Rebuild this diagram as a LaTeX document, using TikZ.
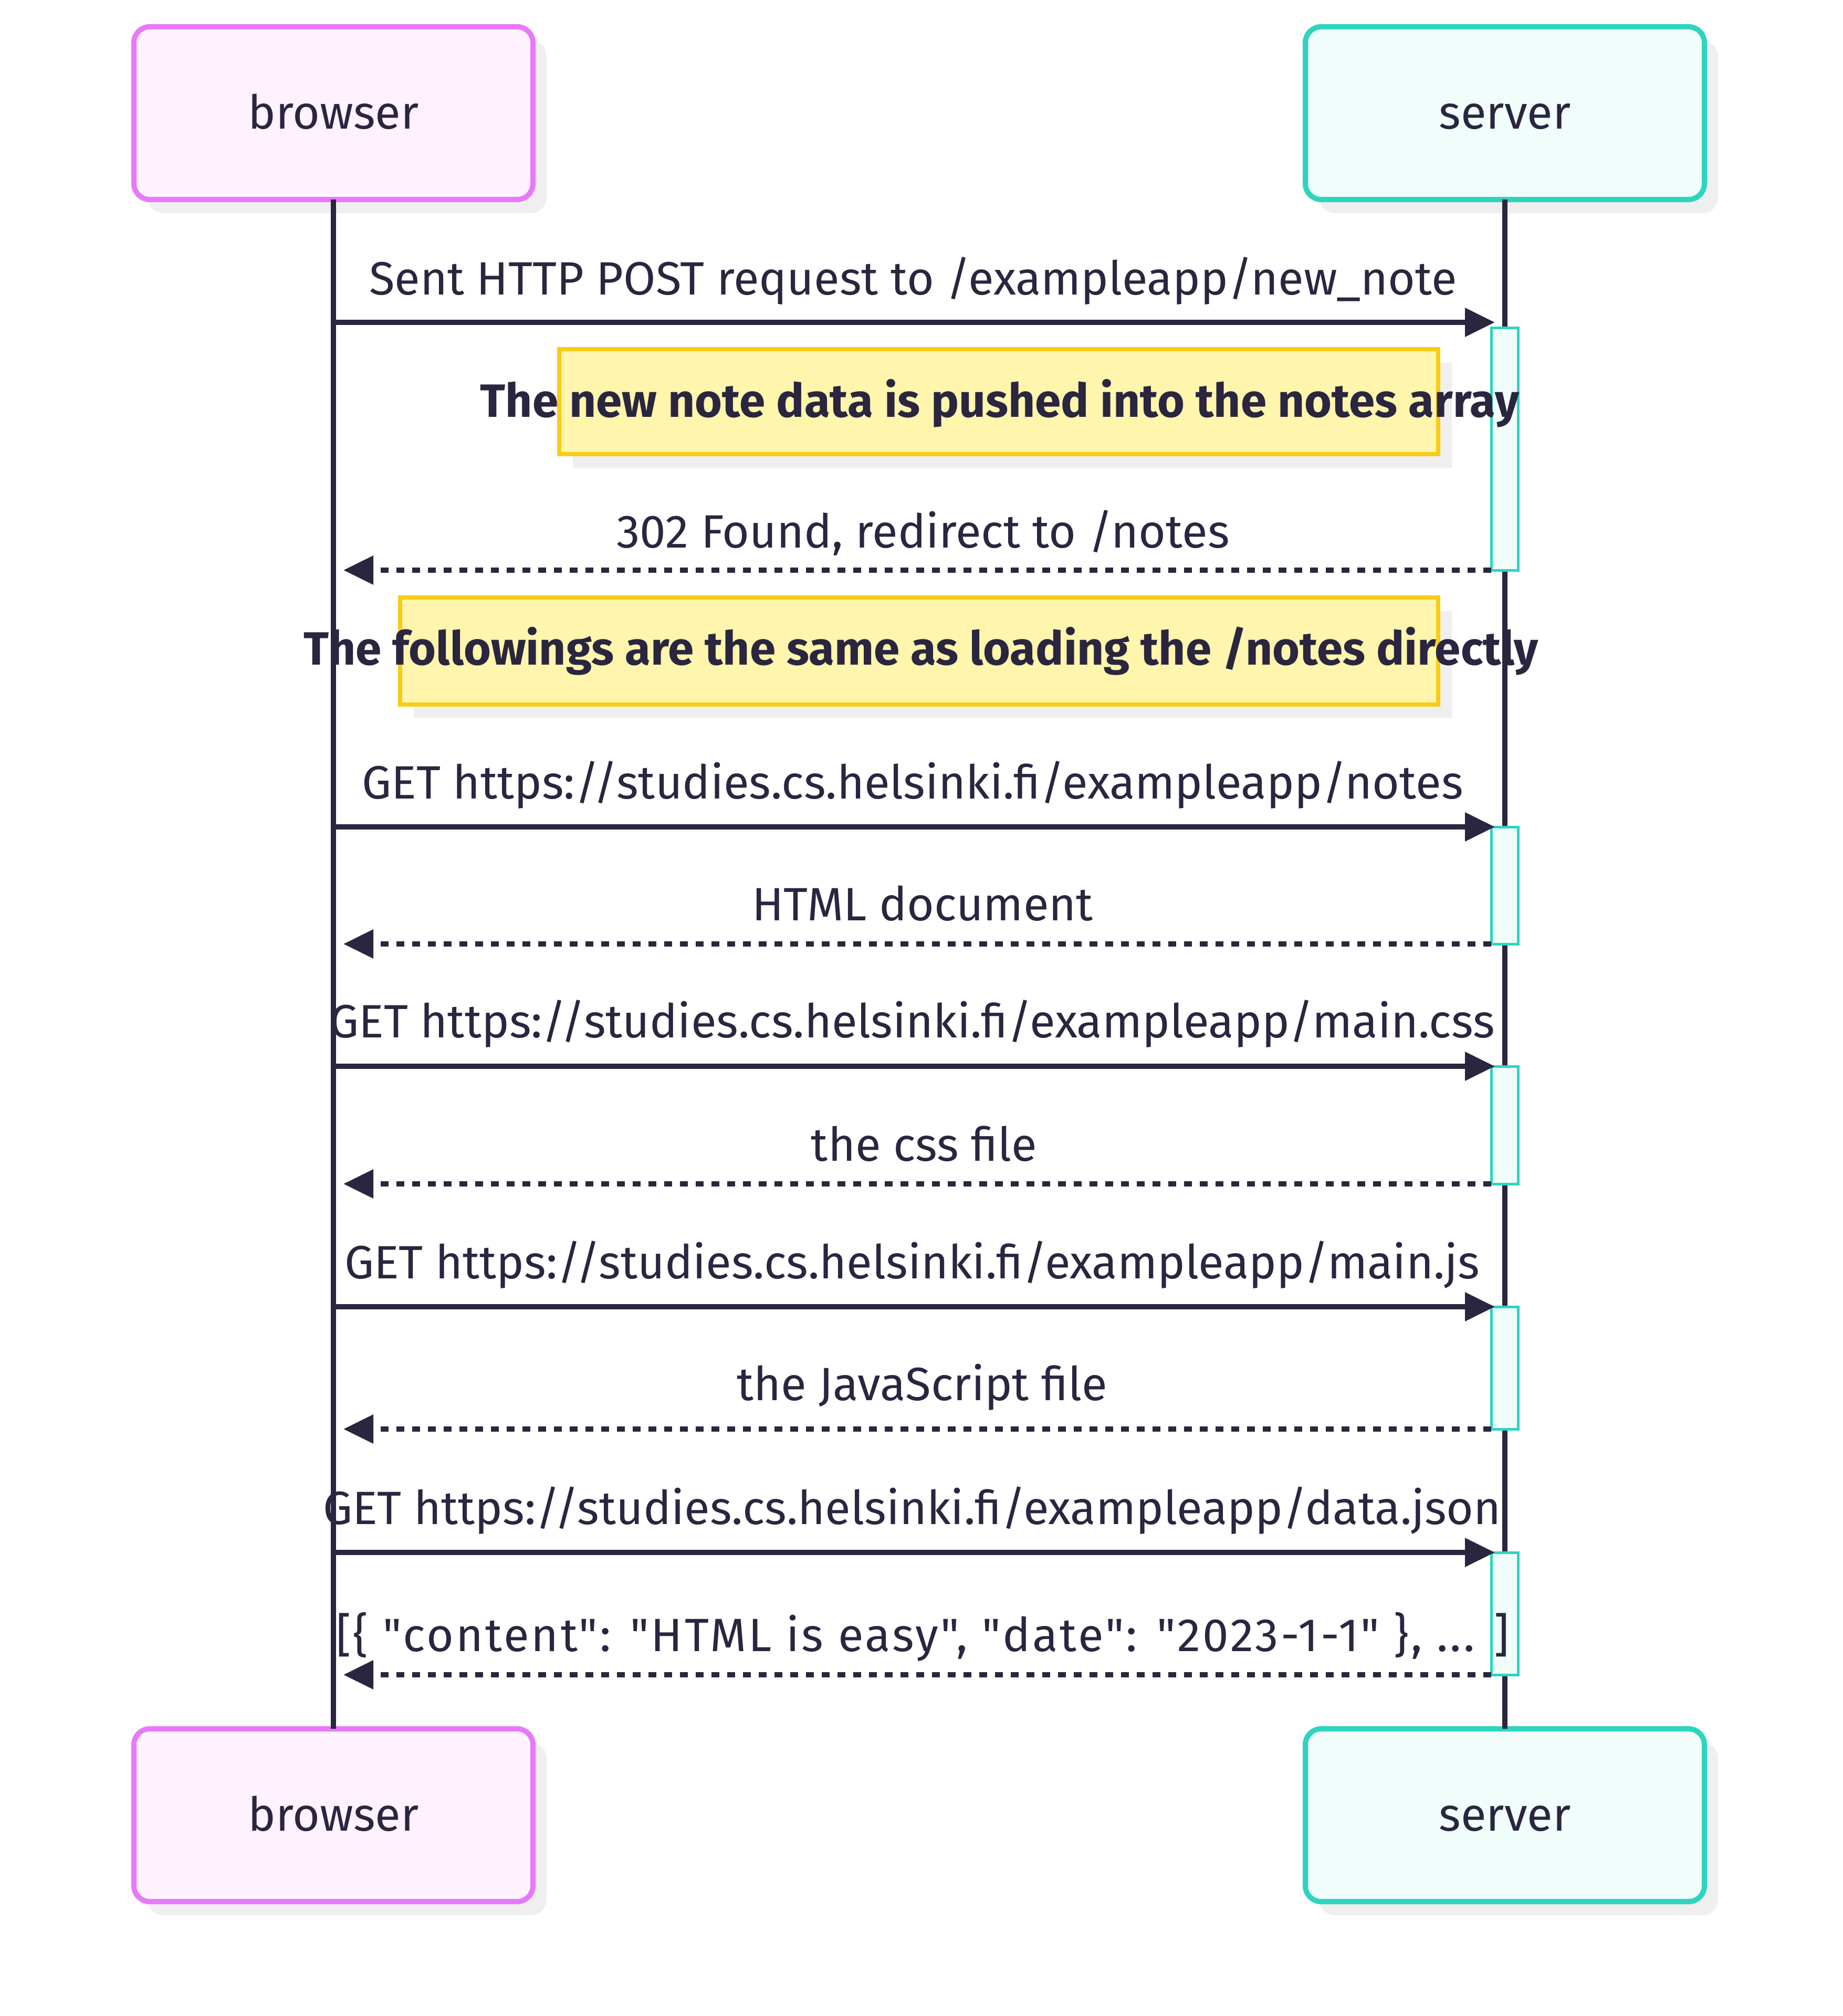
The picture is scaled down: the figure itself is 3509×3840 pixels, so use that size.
\documentclass[tikz,border=0pt]{standalone}
\usepackage{fontspec}
\setmainfont{Fira Sans}[Ligatures=TeXOff]
\usetikzlibrary{arrows.meta,shadows}
\definecolor{ink}{HTML}{2A263F}
\definecolor{pinkline}{HTML}{E879F9}
\definecolor{pinkbg}{HTML}{FDF2FE}
\definecolor{tealline}{HTML}{2DD4BF}
\definecolor{tealbg}{HTML}{F0FDFA}
\definecolor{noteline}{HTML}{FACC15}
\definecolor{notebg}{HTML}{FFF5AD}
\definecolor{shadowc}{HTML}{EFEFEF}
\newcommand\lblfont{\fontsize{89pt}{106pt}\selectfont}
\begin{document}
\begin{tikzpicture}[x=1pt,y=-1pt,
  actorbox/.style={draw, line width=10pt, rounded corners=30pt, minimum width=760pt,
    minimum height=329pt, inner sep=0pt, outer sep=0pt, font=\lblfont, text=ink,
    text height=60pt, text depth=0pt,
    drop shadow={shadow xshift=26pt, shadow yshift=-26pt, fill=shadowc, opacity=1}},
  browserbox/.style={actorbox, draw=pinkline, fill=pinkbg},
  serverbox/.style={actorbox, draw=tealline, fill=tealbg},
  lifeline/.style={draw=ink, line width=10pt},
  actbox/.style={draw=tealline, fill=tealbg, line width=5pt, minimum width=51pt,
    inner sep=0pt, outer sep=0pt},
  notebox/.style={draw=noteline, fill=notebg, line width=8pt, inner sep=0pt, outer sep=0pt,
    drop shadow={shadow xshift=26pt, shadow yshift=-26pt, fill=shadowc, opacity=1}},
  notetext/.style={font=\lblfont\bfseries, text=ink, inner sep=0pt, anchor=base},
  msgtext/.style={font=\lblfont, text=ink, inner sep=0pt, anchor=base},
  fwdline/.style={draw=ink, line width=10pt, -{Triangle[length=57pt,width=53pt]}},
  retline/.style={draw=ink, line width=10pt, dash pattern=on 15pt off 15pt,
    -{Triangle[length=57pt,width=53pt]}}
]
\useasboundingbox (0,0) rectangle (3509,3840);

% actors
\node[browserbox] (bt) at (635,215.5) {browser};
\node[serverbox]  (st) at (2866,215.5) {server};
\node[browserbox] (bb) at (635,3457.5) {browser};
\node[serverbox]  (sb) at (2866,3457.5) {server};

% lifelines
\draw[lifeline] (bt.south) -- (bb.north);
\draw[lifeline] (st.south) -- (sb.north);

% activation boxes
\node[actbox, minimum height=462pt] (a1) at (2865.5,855) {};
\node[actbox, minimum height=223pt] (a2) at (2865.5,1686.5) {};
\node[actbox, minimum height=224pt] (a3) at (2865.5,2143) {};
\node[actbox, minimum height=233pt] (a4) at (2865.5,2605.5) {};
\node[actbox, minimum height=233pt] (a5) at (2865.5,3073.5) {};

% message end points
\coordinate (m1s) at (635,614);  \coordinate (m1e) at (2847,614);
\coordinate (r1e) at (654,1086);
\coordinate (m2s) at (635,1575); \coordinate (m2e) at (2847,1575);
\coordinate (r2e) at (654,1798);
\coordinate (m3s) at (635,2031); \coordinate (m3e) at (2847,2031);
\coordinate (r3e) at (654,2255);
\coordinate (m4s) at (635,2489); \coordinate (m4e) at (2847,2489);
\coordinate (r4e) at (654,2722);
\coordinate (m5s) at (635,2957); \coordinate (m5e) at (2847,2957);
\coordinate (r5e) at (654,3190);

% messages
\draw[fwdline] (m1s) -- (m1e);
\draw[retline] (a1.south west) -- (r1e);
\draw[fwdline] (m2s) -- (m2e);
\draw[retline] (a2.south west) -- (r2e);
\draw[fwdline] (m3s) -- (m3e);
\draw[retline] (a3.south west) -- (r3e);
\draw[fwdline] (m4s) -- (m4e);
\draw[retline] (a4.south west) -- (r4e);
\draw[fwdline] (m5s) -- (m5e);
\draw[retline] (a5.south west) -- (r5e);

% notes
\node[notebox, minimum width=1674pt, minimum height=200pt] (n1) at (1902,764.5) {};
\node[notebox, minimum width=1977pt, minimum height=204pt] (n2) at (1750.5,1240) {};
\node[notetext] (n1t) at (1904,794) {The new note data is pushed into the notes array};
\node[notetext] (n2t) at (1754,1266) {The followings are the same as loading the /notes directly};

% message labels
\node[msgtext] (l1) at (1739,561) {Sent HTTP POST request to /exampleapp/new\_note};
\node[msgtext] (k1) at (1758,1043) {302 Found, redirect to /notes};
\node[msgtext] (l2) at (1738,1521) {GET https://studies.cs.helsinki.fi/exampleapp/notes};
\node[msgtext] (k2) at (1757,1753) {HTML document};
\node[msgtext] (l3) at (1737,1976) {GET https://studies.cs.helsinki.fi/exampleapp/main.css};
\node[msgtext] (k3) at (1760,2211) {the css file};
\node[msgtext] (l4) at (1737,2435) {GET https://studies.cs.helsinki.fi/exampleapp/main.js};
\node[msgtext] (k4) at (1756,2667) {the JavaScript file};
\node[msgtext] (l5) at (1737,2903) {GET https://studies.cs.helsinki.fi/exampleapp/data.json};
\node[msgtext] (k5) at (1757,3145) {\addfontfeatures{LetterSpace=4.5}[\{ "content": "HTML is easy", "date": "2023-1-1" \}, ... ]};
\end{tikzpicture}
\end{document}
